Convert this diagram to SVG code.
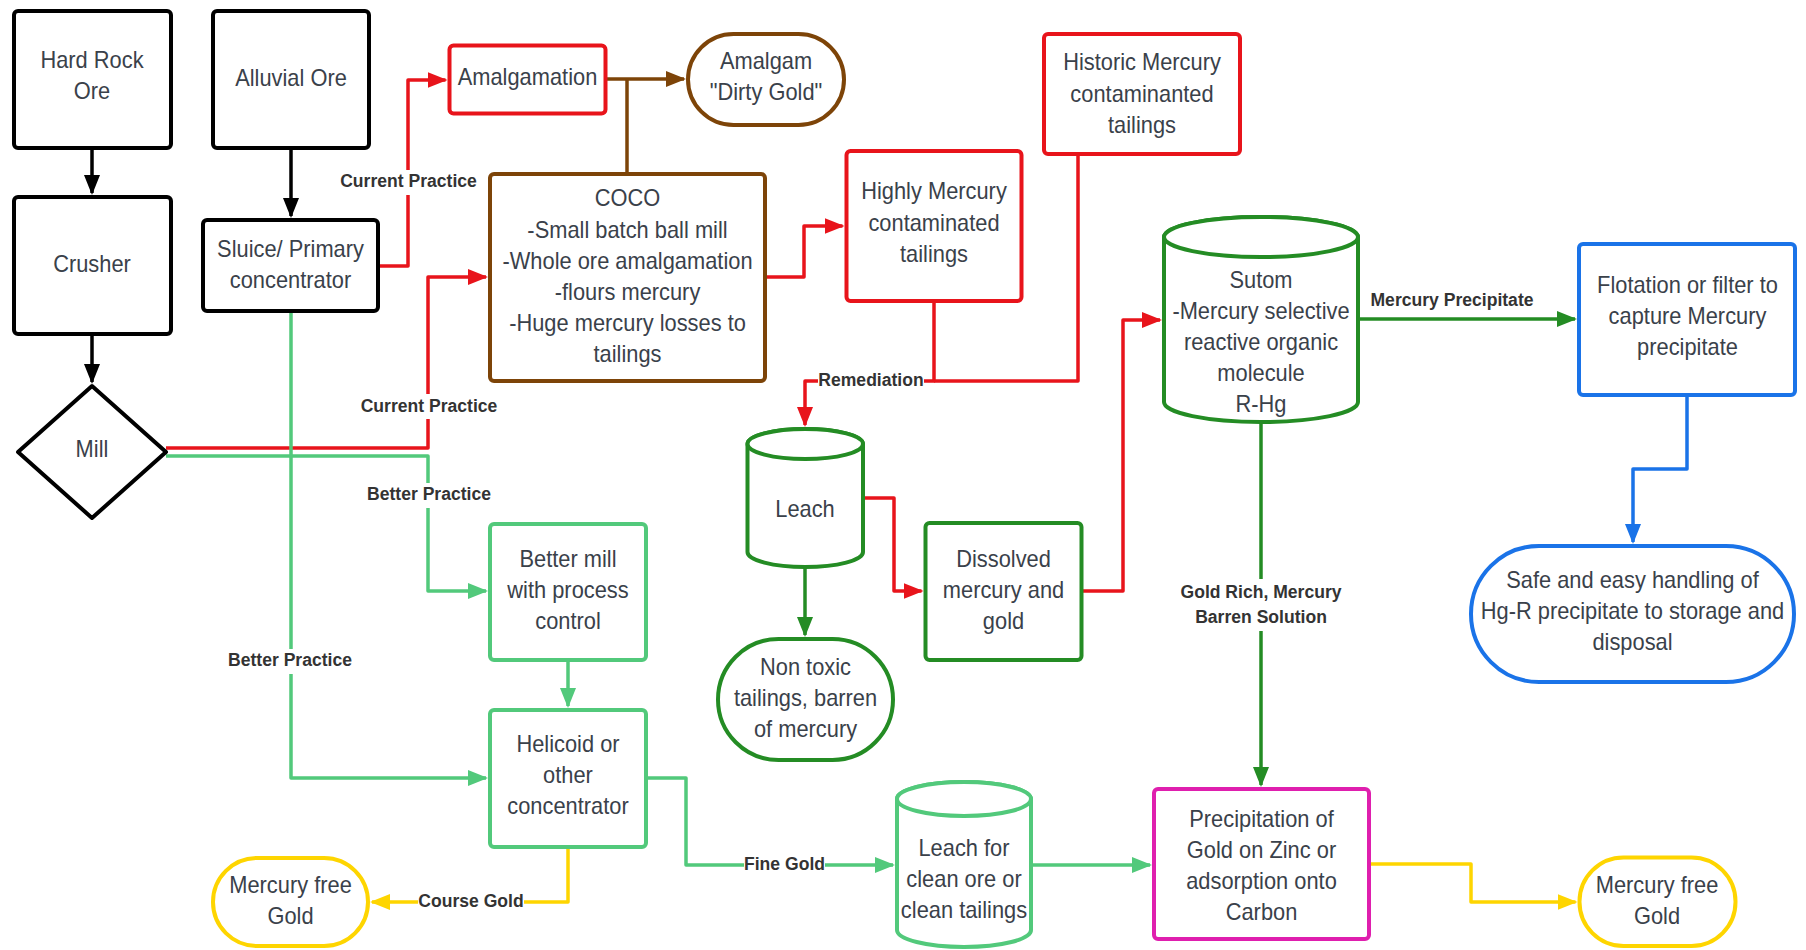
<svg xmlns="http://www.w3.org/2000/svg" width="1806" height="950" viewBox="0 0 1806 950">
<style>
  .nd{fill:#fff;stroke-width:4;stroke-linejoin:round}
  .k{stroke:#000}.r{stroke:#e8141b}.b{stroke:#7d4408}.g{stroke:#248c24}.lg{stroke:#52c97b}
  .bl{stroke:#1a73e8}.y{stroke:#fed500}.m{stroke:#df1fae}
  .t{font-family:"Liberation Sans",Arial,sans-serif;font-size:23px;fill:#3a414a;text-anchor:middle}
  .c{fill:none;stroke-width:3.5;stroke-linejoin:round}
  .lb{font-family:"Liberation Sans",Arial,sans-serif;font-size:18.5px;font-weight:bold;fill:#333;text-anchor:middle}
  .bg{fill:#fff}
</style>
<defs>
  <marker id="ak" viewBox="0 0 20 16" markerWidth="20" markerHeight="16" refX="18" refY="8" orient="auto" markerUnits="userSpaceOnUse"><path d="M0,0 L20,8 L0,16 Z" fill="#000"/></marker>
  <marker id="ar" viewBox="0 0 20 16" markerWidth="20" markerHeight="16" refX="18" refY="8" orient="auto" markerUnits="userSpaceOnUse"><path d="M0,0 L20,8 L0,16 Z" fill="#e8141b"/></marker>
  <marker id="ab" viewBox="0 0 20 16" markerWidth="20" markerHeight="16" refX="18" refY="8" orient="auto" markerUnits="userSpaceOnUse"><path d="M0,0 L20,8 L0,16 Z" fill="#7d4408"/></marker>
  <marker id="ag" viewBox="0 0 20 16" markerWidth="20" markerHeight="16" refX="18" refY="8" orient="auto" markerUnits="userSpaceOnUse"><path d="M0,0 L20,8 L0,16 Z" fill="#248c24"/></marker>
  <marker id="alg" viewBox="0 0 20 16" markerWidth="20" markerHeight="16" refX="18" refY="8" orient="auto" markerUnits="userSpaceOnUse"><path d="M0,0 L20,8 L0,16 Z" fill="#52c97b"/></marker>
  <marker id="abl" viewBox="0 0 20 16" markerWidth="20" markerHeight="16" refX="18" refY="8" orient="auto" markerUnits="userSpaceOnUse"><path d="M0,0 L20,8 L0,16 Z" fill="#1a73e8"/></marker>
  <marker id="ay" viewBox="0 0 20 16" markerWidth="20" markerHeight="16" refX="18" refY="8" orient="auto" markerUnits="userSpaceOnUse"><path d="M0,0 L20,8 L0,16 Z" fill="#fed500"/></marker>
</defs>
<rect width="1806" height="950" fill="#fff"/>

<g id="connectors">
  <path class="c k" d="M92,148 V193" marker-end="url(#ak)"/>
  <path class="c k" d="M92,334 V382" marker-end="url(#ak)"/>
  <path class="c k" d="M291,148 V216" marker-end="url(#ak)"/>
  <path class="c r" d="M378,266 H408 V80 H445.5" marker-end="url(#ar)"/>
  <path class="c r" d="M166,448 H428 V277 H486" marker-end="url(#ar)"/>
  <path class="c r" d="M765,277 H804 V226 H842.5" marker-end="url(#ar)"/>
  <path class="c r" d="M934,301 V381 H805 V425" marker-end="url(#ar)"/>
  <path class="c r" d="M1078,154 V381 H934"/>
  <path class="c r" d="M863,498 H894 V591 H921.5" marker-end="url(#ar)"/>
  <path class="c r" d="M1081.5,591 H1123 V320 H1160" marker-end="url(#ar)"/>
  <path class="c b" d="M605.5,79 H684" marker-end="url(#ab)"/>
  <path class="c b" d="M627,174 V79"/>
  <path class="c g" d="M805,567 V635" marker-end="url(#ag)"/>
  <path class="c g" d="M1358,319 H1575" marker-end="url(#ag)"/>
  <path class="c g" d="M1261,422 V785" marker-end="url(#ag)"/>
  <path class="c lg" d="M166,456 H428 V591 H486" marker-end="url(#alg)"/>
  <path class="c lg" d="M291,311 V778 H486" marker-end="url(#alg)"/>
  <path class="c lg" d="M568,660 V706" marker-end="url(#alg)"/>
  <path class="c lg" d="M646,778 H686 V865 H893" marker-end="url(#alg)"/>
  <path class="c lg" d="M1031,865 H1150" marker-end="url(#alg)"/>
  <path class="c y" d="M568,847 V902 H372" marker-end="url(#ay)"/>
  <path class="c y" d="M1369,864 H1471 V902 H1575.5" marker-end="url(#ay)"/>
  <path class="c bl" d="M1687,395 V469 H1633 V542" marker-end="url(#abl)"/>

  <rect class="bg" x="339" y="170" width="139" height="25"/>
  <text class="lb" transform="translate(408.5 0) scale(.95 1)" y="187">Current Practice</text>
  <rect class="bg" x="360" y="394" width="138" height="25"/>
  <text class="lb" transform="translate(429 0) scale(.95 1)" y="412">Current Practice</text>
  <rect class="bg" x="366" y="483" width="126" height="25"/>
  <text class="lb" transform="translate(429 0) scale(.95 1)" y="500">Better Practice</text>
  <rect class="bg" x="227" y="649" width="126" height="25"/>
  <text class="lb" transform="translate(290 0) scale(.95 1)" y="666.5">Better Practice</text>
  <rect class="bg" x="818" y="371" width="106" height="20"/>
  <text class="lb" transform="translate(871 0) scale(.95 1)" y="386.5">Remediation</text>
  <rect class="bg" x="744" y="855" width="81" height="20"/>
  <text class="lb" transform="translate(784.5 0) scale(.95 1)" y="870">Fine Gold</text>
  <rect class="bg" x="418" y="892" width="106" height="20"/>
  <text class="lb" transform="translate(471 0) scale(.95 1)" y="907">Course Gold</text>
  <text class="lb" transform="translate(1452 0) scale(.95 1)" y="306.5">Mercury Precipitate</text>
  <rect class="bg" x="1179" y="579" width="164" height="52"/>
  <text class="lb" transform="translate(1261 0) scale(.95 1)"><tspan x="0" y="598">Gold Rich, Mercury</tspan><tspan x="0" y="623">Barren Solution</tspan></text>
</g>

<g id="hard-rock-ore">
  <rect class="nd k" x="14" y="11" width="157" height="137" rx="4"/>
  <text class="t" transform="translate(92 0) scale(.95 1)"><tspan x="0" y="68">Hard Rock</tspan><tspan x="0" y="99.5">Ore</tspan></text>
</g>
<g id="alluvial-ore">
  <rect class="nd k" x="213" y="11" width="156" height="137" rx="4"/>
  <text class="t" transform="translate(291 0) scale(.95 1)" y="86">Alluvial Ore</text>
</g>
<g id="crusher">
  <rect class="nd k" x="14" y="197" width="157" height="137" rx="4"/>
  <text class="t" transform="translate(92 0) scale(.95 1)" y="272">Crusher</text>
</g>
<g id="sluice">
  <rect class="nd k" x="203" y="220" width="175" height="91" rx="4"/>
  <text class="t" transform="translate(290.5 0) scale(.95 1)"><tspan x="0" y="257.5">Sluice/ Primary</tspan><tspan x="0" y="288.5">concentrator</tspan></text>
</g>
<g id="mill">
  <path class="nd k" d="M92,386 L166,452 L92,518 L18,452 Z"/>
  <text class="t" transform="translate(92 0) scale(.95 1)" y="457">Mill</text>
</g>
<g id="amalgamation">
  <rect class="nd r" x="449.5" y="45.5" width="156" height="68" rx="4"/>
  <text class="t" transform="translate(527.5 0) scale(.95 1)" y="85">Amalgamation</text>
</g>
<g id="amalgam">
  <rect class="nd b" x="688" y="34" width="156" height="91" rx="45.5"/>
  <text class="t" transform="translate(766 0) scale(.95 1)"><tspan x="0" y="69.5">Amalgam</tspan><tspan x="0" y="100.5">"Dirty Gold"</tspan></text>
</g>
<g id="coco">
  <rect class="nd b" x="490" y="174" width="275" height="207" rx="4"/>
  <text class="t" transform="translate(627.5 0) scale(.95 1)"><tspan x="0" y="206.5">COCO</tspan><tspan x="0" y="237.6">-Small batch ball mill</tspan><tspan x="0" y="268.7">-Whole ore amalgamation</tspan><tspan x="0" y="299.8">-flours mercury</tspan><tspan x="0" y="330.9">-Huge mercury losses to</tspan><tspan x="0" y="362">tailings</tspan></text>
</g>
<g id="highly-mercury">
  <rect class="nd r" x="846.5" y="151" width="175" height="150" rx="4"/>
  <text class="t" transform="translate(934 0) scale(.95 1)"><tspan x="0" y="199.5">Highly Mercury</tspan><tspan x="0" y="230.6">contaminated</tspan><tspan x="0" y="261.7">tailings</tspan></text>
</g>
<g id="historic-mercury">
  <rect class="nd r" x="1044" y="34" width="196" height="120" rx="4"/>
  <text class="t" transform="translate(1142 0) scale(.95 1)"><tspan x="0" y="70.5">Historic Mercury</tspan><tspan x="0" y="101.6">contaminanted</tspan><tspan x="0" y="132.7">tailings</tspan></text>
</g>
<g id="sutom">
  <path class="nd g" d="M1164,237 V402 A97,20 0 0 0 1358,402 V237 A97,20 0 0 0 1164,237 Z"/>
  <ellipse class="nd g" cx="1261" cy="237" rx="97" ry="20"/>
  <text class="t" transform="translate(1261 0) scale(.95 1)"><tspan x="0" y="288">Sutom</tspan><tspan x="0" y="319">-Mercury selective</tspan><tspan x="0" y="350">reactive organic</tspan><tspan x="0" y="381">molecule</tspan><tspan x="0" y="412">R-Hg</tspan></text>
</g>
<g id="flotation">
  <rect class="nd bl" x="1579" y="244" width="216" height="151" rx="4"/>
  <text class="t" transform="translate(1687.5 0) scale(.95 1)"><tspan x="0" y="293">Flotation or filter to</tspan><tspan x="0" y="324">capture Mercury</tspan><tspan x="0" y="355">precipitate</tspan></text>
</g>
<g id="safe-handling">
  <rect class="nd bl" x="1471" y="546" width="323" height="136" rx="68"/>
  <text class="t" transform="translate(1632.5 0) scale(.95 1)"><tspan x="0" y="588">Safe and easy handling of</tspan><tspan x="0" y="619">Hg-R precipitate to storage and</tspan><tspan x="0" y="650">disposal</tspan></text>
</g>
<g id="leach">
  <path class="nd g" d="M747.5,444 V552 A57.75,15 0 0 0 863,552 V444 A57.75,15 0 0 0 747.5,444 Z"/>
  <ellipse class="nd g" cx="805.25" cy="444" rx="57.75" ry="15"/>
  <text class="t" transform="translate(805 0) scale(.95 1)" y="517">Leach</text>
</g>
<g id="dissolved">
  <rect class="nd g" x="925.5" y="523" width="156" height="137" rx="4"/>
  <text class="t" transform="translate(1003.5 0) scale(.95 1)"><tspan x="0" y="567">Dissolved</tspan><tspan x="0" y="598">mercury and</tspan><tspan x="0" y="629">gold</tspan></text>
</g>
<g id="non-toxic">
  <rect class="nd g" x="718" y="639" width="175" height="121" rx="60.5"/>
  <text class="t" transform="translate(805.5 0) scale(.95 1)"><tspan x="0" y="675">Non toxic</tspan><tspan x="0" y="706">tailings, barren</tspan><tspan x="0" y="737">of mercury</tspan></text>
</g>
<g id="better-mill">
  <rect class="nd lg" x="490" y="524" width="156" height="136" rx="4"/>
  <text class="t" transform="translate(568 0) scale(.95 1)"><tspan x="0" y="567">Better mill</tspan><tspan x="0" y="598">with process</tspan><tspan x="0" y="629">control</tspan></text>
</g>
<g id="helicoid">
  <rect class="nd lg" x="490" y="710" width="156" height="137" rx="4"/>
  <text class="t" transform="translate(568 0) scale(.95 1)"><tspan x="0" y="752.5">Helicoid or</tspan><tspan x="0" y="783.5">other</tspan><tspan x="0" y="814.5">concentrator</tspan></text>
</g>
<g id="leach-clean">
  <path class="nd lg" d="M897,799 V930 A67,17 0 0 0 1031,930 V799 A67,17 0 0 0 897,799 Z"/>
  <ellipse class="nd lg" cx="964" cy="799" rx="67" ry="17"/>
  <text class="t" transform="translate(964 0) scale(.95 1)"><tspan x="0" y="856">Leach for</tspan><tspan x="0" y="887">clean ore or</tspan><tspan x="0" y="918">clean tailings</tspan></text>
</g>
<g id="precipitation">
  <rect class="nd m" x="1154" y="789" width="215" height="150" rx="4"/>
  <text class="t" transform="translate(1261.5 0) scale(.95 1)"><tspan x="0" y="827">Precipitation of</tspan><tspan x="0" y="858">Gold on Zinc or</tspan><tspan x="0" y="889">adsorption onto</tspan><tspan x="0" y="920">Carbon</tspan></text>
</g>
<g id="mercury-free-gold-left">
  <rect class="nd y" x="213" y="858" width="155" height="88" rx="44"/>
  <text class="t" transform="translate(290.5 0) scale(.95 1)"><tspan x="0" y="893">Mercury free</tspan><tspan x="0" y="924">Gold</tspan></text>
</g>
<g id="mercury-free-gold-right">
  <rect class="nd y" x="1579.5" y="857.5" width="156" height="88.5" rx="44"/>
  <text class="t" transform="translate(1657 0) scale(.95 1)"><tspan x="0" y="893">Mercury free</tspan><tspan x="0" y="924">Gold</tspan></text>
</g>
</svg>
